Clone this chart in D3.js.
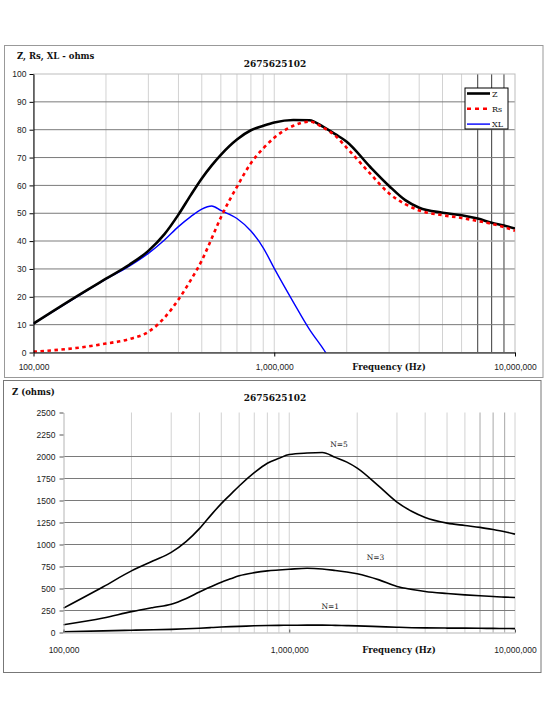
<!DOCTYPE html>
<html lang="en">
<head>
  <meta charset="UTF-8">
  <title>2675625102 impedance</title>
  <script src="https://cdn.jsdelivr.net/npm/d3@7"></script>
  <style>
    body { margin: 0; background: #fff; }
    svg { display: block; font-family: "DejaVu Serif", serif; }
    .tick text { font-size: 8.5px; fill: #222; }
    .bold { font-weight: bold; fill: #111; }
  </style>
</head>
<body>
<div id="chart"></div>
<script>
// frequency points (Hz)
const freq = [1e5, 1.5e5, 2e5, 2.5e5, 3e5, 3.5e5, 4e5, 4.5e5, 5e5, 5.5e5, 6e5, 7e5, 8e5, 9e5,
  1e6, 1.2e6, 1.4e6, 1.6e6, 1.8e6, 2e6, 2.5e6, 3e6, 3.5e6, 4e6, 5e6, 6e6, 7e6, 8e6, 9e6, 1e7];

// top chart series (ohms)
const zOhms = [10.4, 20, 26.5, 31.5, 36.5, 42.5, 49.5, 56.5, 62.5, 67.2, 71, 76.5, 79.8, 81.4,
  82.6, 83.5, 83.4, 81, 78.3, 75.7, 66.7, 59.8, 54.7, 52, 50.2, 49.3, 48.1, 46.6, 45.6, 44.5];
const rsOhms = [0.3, 1.6, 3.2, 4.8, 7.4, 12.5, 19, 26, 33, 41, 48.5, 59.5, 68, 73.3,
  77.1, 81.4, 82.9, 80.7, 77.7, 73.5, 64.3, 57.1, 53.3, 51, 49.3, 48.3, 47.2, 46.2, 45, 43.7];
const xlOhms = [10.4, 19.8, 26.3, 31, 35.6, 40.4, 45.2, 48.8, 51.5, 52.6, 51, 48.1, 43.6, 37.6,
  30.2, 18.1, 8.3, 1.2, -5.8, null, null, null, null, null, null, null, null, null, null, null];

// bottom chart series (ohms)
const n5Ohms = [277, 520, 700, 815, 910, 1035, 1180, 1334, 1465, 1570, 1665, 1816, 1924, 1979,
  2022, 2039, 2045, 1990, 1936, 1868, 1660, 1482, 1375, 1307, 1243, 1216, 1195, 1170, 1145, 1118];
const n3Ohms = [88, 165, 237, 285, 322, 387, 460, 520, 572, 611, 645, 680, 700, 710,
  718, 730, 722, 705, 688, 668, 598, 523, 489, 466, 443, 428, 417, 409, 402, 398];
const n1Ohms = [8, 18, 25.5, 31, 36, 42, 49, 56, 62, 66.5, 70, 76, 79.5, 81.5,
  82.6, 83.5, 83.4, 81, 78.3, 75.7, 66.7, 59.8, 54.7, 52, 50.2, 49.3, 48.1, 46.6, 45.6, 44.5];

const titleText = "2675625102";
const xTicks = [1e5, 1e6, 1e7];
const topYTicks = d3.range(0, 101, 10);
const botYTicks = d3.range(0, 2501, 250);
const botGridY = d3.range(250, 2001, 250);

// minor decade lines 200k..9M
const minorF = [];
[1e5, 1e6].forEach(base => { for (let k = 2; k <= 9; k++) minorF.push(base * k); });
minorF.push(1e6);

const svg = d3.select("#chart").append("svg")
  .attr("width", 550).attr("height", 712);

svg.append("rect").attr("width", 550).attr("height", 712).attr("fill", "#fff");

// ---------- top chart ----------
svg.append("rect")
  .attr("x", 4.5).attr("y", 45.5).attr("width", 538.5).attr("height", 332)
  .attr("fill", "none").attr("stroke", "#999");

const x1 = d3.scaleLog().domain([1e5, 1e7]).range([33.5, 515]);
const y1 = d3.scaleLinear().domain([0, 100]).range([352.5, 74]);

const topG = svg.append("g");

topG.selectAll(".vmin").data(minorF).enter().append("line")
  .attr("x1", d => x1(d)).attr("x2", d => x1(d))
  .attr("y1", y1(100)).attr("y2", y1(0))
  .attr("stroke", d => d >= 7e6 ? "#3a3a3a" : "#d2d2d2")
  .attr("stroke-width", 1);

topG.selectAll(".hgrid").data(topYTicks.filter(v => v > 0 && v < 100)).enter().append("line")
  .attr("x1", x1(1e5)).attr("x2", x1(1e7))
  .attr("y1", d => y1(d)).attr("y2", d => y1(d))
  .attr("stroke", d => d === 40 ? "#a8a8a8" : "#7a7a7a")
  .attr("stroke-width", d => d === 40 ? 1.5 : 1);

topG.append("rect")
  .attr("x", x1(1e5)).attr("y", y1(100))
  .attr("width", x1(1e7) - x1(1e5)).attr("height", y1(0) - y1(100))
  .attr("fill", "none").attr("stroke", "#bdbdbd");

topG.append("clipPath").attr("id", "clipTop").append("rect")
  .attr("x", x1(1e5)).attr("y", y1(100))
  .attr("width", x1(1e7) - x1(1e5)).attr("height", y1(0) - y1(100));

const topLine = vals => d3.line()
  .defined((d, i) => vals[i] !== null)
  .x((d, i) => x1(freq[i]))
  .y((d, i) => y1(vals[i]))
  .curve(d3.curveMonotoneX)(freq);

const plotTop = topG.append("g").attr("clip-path", "url(#clipTop)");
plotTop.append("path").attr("d", topLine(xlOhms))
  .attr("fill", "none").attr("stroke", "#0000ff").attr("stroke-width", 1.4);
plotTop.append("path").attr("d", topLine(zOhms))
  .attr("fill", "none").attr("stroke", "#000").attr("stroke-width", 2.6);
plotTop.append("path").attr("d", topLine(rsOhms))
  .attr("fill", "none").attr("stroke", "#ff0000").attr("stroke-width", 2.6)
  .attr("stroke-dasharray", "3.5,3.5");

const yAx1 = topG.append("g").attr("transform", `translate(${x1(1e5)},0)`)
  .call(d3.axisLeft(y1).tickValues(topYTicks).tickSize(4).tickPadding(3).tickSizeOuter(0));
const xAx1 = topG.append("g").attr("transform", `translate(0,${y1(0)})`)
  .call(d3.axisBottom(x1).tickValues(xTicks).tickFormat(d3.format(",")).tickSize(4).tickPadding(7).tickSizeOuter(0));
[yAx1, xAx1].forEach(a => {
  a.select(".domain").attr("stroke", "#000");
  a.selectAll(".tick line").attr("stroke", "#000");
});

topG.append("text").attr("class", "bold").attr("x", 275).attr("y", 67)
  .attr("text-anchor", "middle").attr("font-size", 9).text(titleText);
topG.append("text").attr("class", "bold").attr("x", 17).attr("y", 59)
  .attr("font-size", 8.5).text("Z, Rs, XL - ohms");
topG.append("text").attr("class", "bold").attr("x", 389).attr("y", 370)
  .attr("text-anchor", "middle").attr("font-size", 8.5).text("Frequency (Hz)");

// legend
const legendItems = [
  { name: "Z", color: "#000", width: 2.6, dash: null },
  { name: "Rs", color: "#ff0000", width: 2.6, dash: "4,4" },
  { name: "XL", color: "#0000ff", width: 1.4, dash: null }
];
const leg = topG.append("g").attr("transform", "translate(465,88)");
leg.append("rect").attr("width", 43).attr("height", 41)
  .attr("fill", "#fff").attr("stroke", "#000");
legendItems.forEach((it, i) => {
  const ly = 5.5 + i * 15.3;
  leg.append("line").attr("x1", 2).attr("x2", 25).attr("y1", ly).attr("y2", ly)
    .attr("stroke", it.color).attr("stroke-width", it.width)
    .attr("stroke-dasharray", it.dash);
  leg.append("text").attr("x", 27).attr("y", ly + 3).attr("font-size", 8)
    .attr("fill", "#111").text(it.name);
});

// ---------- bottom chart ----------
svg.append("rect")
  .attr("x", 3.5).attr("y", 380.5).attr("width", 537.5).attr("height", 292)
  .attr("fill", "none").attr("stroke", "#777");

const x2 = d3.scaleLog().domain([1e5, 1e7]).range([63.5, 515]);
const y2 = d3.scaleLinear().domain([0, 2500]).range([632.5, 412.5]);

const botG = svg.append("g");

botG.selectAll(".vmin").data(minorF.concat([1e7])).enter().append("line")
  .attr("x1", d => x2(d)).attr("x2", d => x2(d))
  .attr("y1", y2(2500)).attr("y2", y2(0))
  .attr("stroke", d => (d >= 7e6 && d < 1e7) ? "#a8a8a8" : "#d2d2d2")
  .attr("stroke-width", 1);

botG.selectAll(".hgrid").data(botGridY).enter().append("line")
  .attr("x1", x2(1e5)).attr("x2", x2(1e7))
  .attr("y1", d => y2(d)).attr("y2", d => y2(d))
  .attr("stroke", "#7a7a7a").attr("stroke-width", 1);

const botLine = vals => d3.line()
  .x((d, i) => x2(freq[i]))
  .y((d, i) => y2(vals[i]))
  .curve(d3.curveMonotoneX)(freq);

[n5Ohms, n3Ohms, n1Ohms].forEach(vals => {
  botG.append("path").attr("d", botLine(vals))
    .attr("fill", "none").attr("stroke", "#000").attr("stroke-width", 1.6);
});

const yAx2 = botG.append("g").attr("transform", `translate(${x2(1e5)},0)`)
  .call(d3.axisLeft(y2).tickValues(botYTicks).tickFormat(d3.format("d")).tickSize(4).tickPadding(4).tickSizeOuter(0));
const xAx2 = botG.append("g").attr("transform", `translate(0,${y2(0)})`)
  .call(d3.axisBottom(x2).tickValues(xTicks).tickFormat(d3.format(",")).tickSize(-3).tickPadding(14).tickSizeOuter(0));
[yAx2, xAx2].forEach(a => {
  a.select(".domain").attr("stroke", "#b4b4b4");
  a.selectAll(".tick line").attr("stroke", "#555");
});

botG.append("text").attr("class", "bold").attr("x", 275).attr("y", 401)
  .attr("text-anchor", "middle").attr("font-size", 9).text(titleText);
botG.append("text").attr("class", "bold").attr("x", 12).attr("y", 395)
  .attr("font-size", 8.5).text("Z (ohms)");
botG.append("text").attr("class", "bold").attr("x", 399).attr("y", 653)
  .attr("text-anchor", "middle").attr("font-size", 8.5).text("Frequency (Hz)");

const curveLabels = [
  { text: "N=5", f: 1.66e6, v: 2108 },
  { text: "N=3", f: 2.41e6, v: 824 },
  { text: "N=1", f: 1.52e6, v: 267 }
];
botG.selectAll(".clabel").data(curveLabels).enter().append("text")
  .attr("x", d => x2(d.f)).attr("y", d => y2(d.v))
  .attr("text-anchor", "middle").attr("font-size", 7.5).attr("fill", "#222")
  .text(d => d.text);
</script>
</body>
</html>
